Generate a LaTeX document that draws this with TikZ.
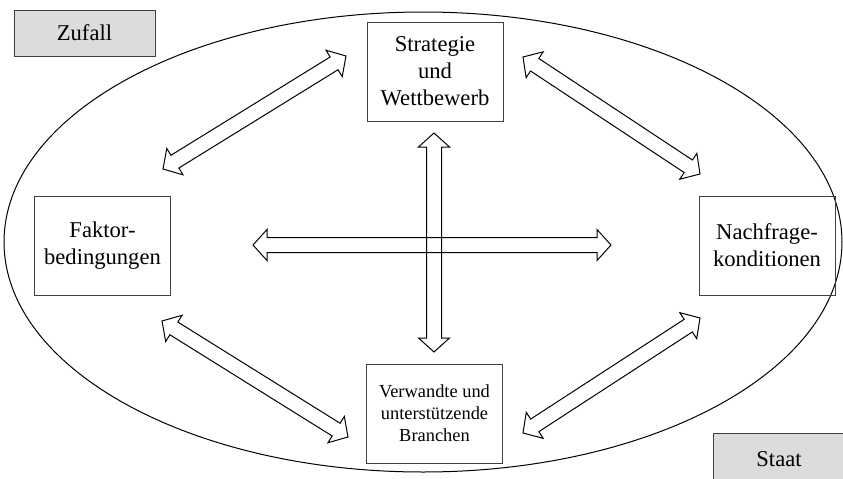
\documentclass[tikz,border=0pt]{standalone}
\usepackage{fontspec}
\setmainfont{Liberation Serif}
\usetikzlibrary{calc}
\definecolor{boxgray}{HTML}{DCDCDC}
\definecolor{rimgray}{HTML}{404040}
% block arrow sizes
\newcommand{\hl}{7pt}
\newcommand{\hw}{7.75pt}
\newcommand{\sw}{3.75pt}
\newcommand{\twoway}[2]{%
  \draw[arrowline] (#1)
    -- ($(#1)!\hl!(#2)!\hw!90:(#2)$)
    -- ($(#1)!\hl!(#2)!\sw!90:(#2)$)
    -- ($(#2)!\hl!(#1)!\sw!-90:(#1)$)
    -- ($(#2)!\hl!(#1)!\hw!-90:(#1)$)
    -- (#2)
    -- ($(#2)!\hl!(#1)!\hw!90:(#1)$)
    -- ($(#2)!\hl!(#1)!\sw!90:(#1)$)
    -- ($(#1)!\hl!(#2)!\sw!-90:(#2)$)
    -- ($(#1)!\hl!(#2)!\hw!-90:(#2)$)
    -- cycle;}
\begin{document}
\begin{tikzpicture}[x=0.5pt,y=-0.5pt]

  \tikzset{
    factor/.style={draw=rimgray, line width=0.5pt, align=center,
      minimum width=68pt, minimum height=49.5pt, inner sep=0pt,
      font=\fontsize{11.3}{13.5}\selectfont},
    outside/.style={factor, fill=boxgray, minimum height=23pt},
    arrowline/.style={draw=black, line width=0.5pt, line join=miter}
  }

  \useasboundingbox (0,0) rectangle (843,478);

  \draw[line width=0.5pt] (423,242) ellipse [x radius=209.5pt, y radius=115pt];

  \node[outside, minimum width=70.5pt] (zufall) at (84.5,33) {Zufall};
  \node[outside, minimum width=66pt, minimum height=26pt] (staat) at (779,459) {Staat};

  \node[factor] (strategie) at (435,71.5) {Strategie\\und\\Wettbewerb};
  \node[factor] (faktor) at (102.5,245.5) {Faktor-\\bedingungen};
  \node[factor] (nachfrage) at (767,245.5) {Nachfrage-\\konditionen};
  \node[factor, font=\fontsize{9.2}{11}\selectfont] (branchen) at (434.5,413.5)
    {Verwandte und\\unterst\"utzende\\Branchen};

  % arrow ends
  \coordinate (hl) at (253,245);
  \coordinate (hr) at (611,245);
  \coordinate (vt) at (434,133);
  \coordinate (vb) at (434,352);
  \coordinate (tla) at (163,169);
  \coordinate (tlb) at (346,56);
  \coordinate (tra) at (523,57);
  \coordinate (trb) at (700,174);
  \coordinate (bla) at (162,321);
  \coordinate (blb) at (348,437);
  \coordinate (bra) at (700,318);
  \coordinate (brb) at (523,433);

  \twoway{hl}{hr}
  \twoway{vt}{vb}
  \twoway{tla}{tlb}
  \twoway{tra}{trb}
  \twoway{bla}{blb}
  \twoway{bra}{brb}

\end{tikzpicture}
\end{document}
